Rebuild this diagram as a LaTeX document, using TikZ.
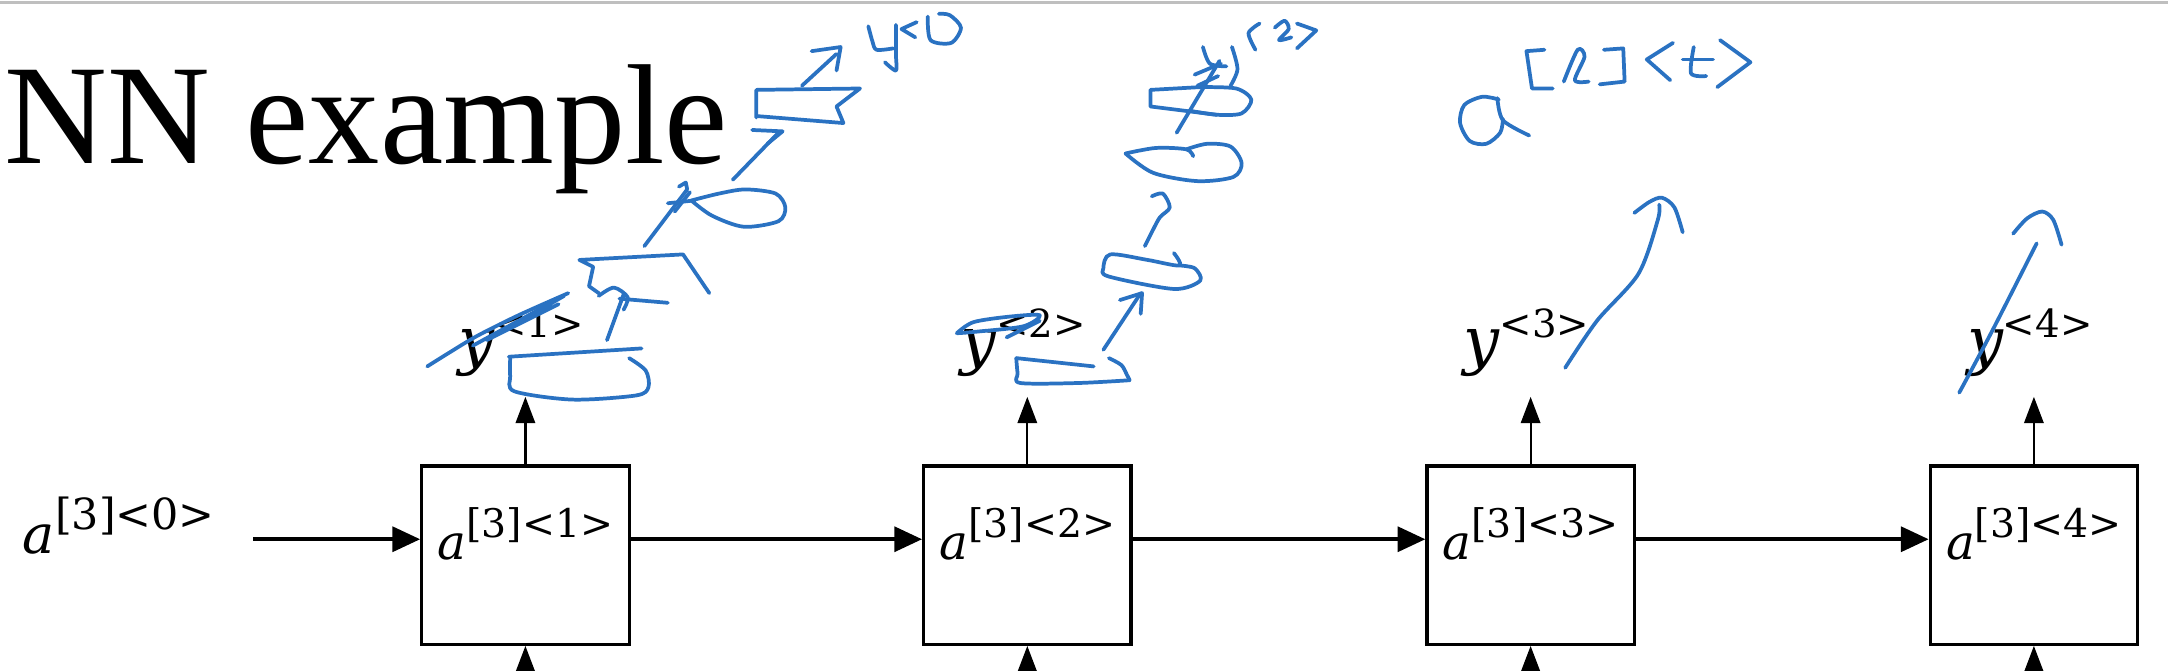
\documentclass[tikz,border=0pt]{standalone}
\usepackage{fontspec}
\setmainfont{Liberation Serif}
\newfontfamily\mathf{DejaVu Serif}
\usetikzlibrary{arrows.meta}
\definecolor{ink}{RGB}{42,114,194}
\newcommand{\alab}[1]{{\mathf\fontsize{35}{35}\selectfont\itshape a}\raisebox{16pt}{\mathf\fontsize{28.5}{28.5}\selectfont #1}}
\newcommand{\azlab}[1]{{\mathf\fontsize{39}{39}\selectfont\itshape a}\raisebox{17pt}{\mathf\fontsize{31}{31}\selectfont #1}}
\newcommand{\ylab}[1]{{\mathf\fontsize{46}{46}\selectfont\itshape y}\raisebox{18pt}{\mathf\fontsize{28}{28}\selectfont #1}}
\begin{document}
\begin{tikzpicture}[x=1pt,y=-1pt,
  cell/.style={draw, line width=2.3pt, minimum width=150pt, minimum height=129pt, inner sep=0pt},
  harr/.style={line width=2.6pt, -{Triangle[length=20pt,width=18pt]}},
  varr/.style={line width=1.6pt, -{Triangle[length=19pt,width=14pt]}},
  hand/.style={ink, line width=2.7pt, line cap=round, line join=round},
  lab/.style={inner sep=0pt, anchor=base}]
\useasboundingbox (0,0) rectangle (1568,485);
\draw[black!25, line width=2pt] (0,2) -- (1568,2);
\node[inner sep=0pt, anchor=base west, font=\fontsize{103}{103}\selectfont] (title) at (3,118) {NN example};
% cells
\foreach \i/\x in {1/380,2/743,3/1107,4/1471}{
  \node[cell] (b\i) at (\x,401.5) {};
  \node[lab] (l\i) at (\x,405) {\alab{[3]<\i>}};
  \node[lab] (y\i) at (\x-3,262) {\ylab{<\i>}};
  \coordinate (t\i) at (\x,287);
  \coordinate (u\i) at (\x,490);
  \draw[varr] (b\i.north) -- (t\i);
  \draw[varr] (u\i) -- (b\i.south);
}
\node[lab] (a0) at (86,400) {\azlab{[3]<0>}};
\coordinate (s0) at (183,390);
\draw[harr] (s0) -- (s0 -| b1.west);
\draw[harr] (s0 -| b1.east) -- (s0 -| b2.west);
\draw[harr] (s0 -| b2.east) -- (s0 -| b3.west);
\draw[harr] (s0 -| b3.east) -- (s0 -| b4.west);
% ---- handwriting, column 1
\draw[hand] plot[smooth] coordinates {(309,265) (325,255) (345,243) (375,228) (411,212)};
\draw[hand] (342,250) -- (408,214) -- (352,246) -- (404,220);
\draw[hand] (368,258) -- (464,252);
\draw[hand] plot[smooth] coordinates {(369,259) (369,272) (372,283) (414,289) (460,286) (469,280) (467,268) (455,259)};
\draw[hand] (439,246) -- (451,213);
\draw[hand] plot[smooth] coordinates {(433,214) (444,208) (454,215) (451,224)};
\draw[hand] (448,216) -- (483,219);
\draw[hand] (433,212) -- (426,207) -- (429,193) -- (419,188) -- (494,184) -- (513,212);
\draw[hand] (466,178) -- (497,137);
\draw[hand] (483,147) -- (502,145);
\draw[hand] (488,153) -- (499,139);
\draw[hand] (491,135) -- (496,132) -- (497,137);
\draw[hand] plot[smooth] coordinates {(500,145) (520,140) (539,137) (561,140) (568,150) (563,160) (538,164) (515,156) (500,145)};
\draw[hand] (530,130) -- (563,96);
\draw[hand] (544,94) -- (566,95) -- (555,104);
\draw[hand] (547,85) -- (547,65) -- (622,64) -- (605,77) -- (610,89) -- (548,84);
\draw[hand] (580,62) -- (605,39);
\draw[hand] (587,37) -- (608,34) -- (605,51);
\draw[hand] plot[smooth] coordinates {(628,19) (631,30) (634,36) (646,35)};
\draw[hand] plot[smooth] coordinates {(648,18) (648,40) (648,51) (640,45)};
\draw[hand] (663,16) -- (652,21) -- (662,27);
\draw[hand] plot[smooth] coordinates {(671,12) (673,29) (688,31) (695,20) (687,11) (679,10)};
% ---- column 2
\draw[hand] plot[smooth] coordinates {(692,241) (704,233) (730,229) (752,228) (740,236) (705,240) (692,241)};
\draw[hand] (728,244) -- (752,232);
\draw[hand] (735,259) -- (791,265);
\draw[hand] plot[smooth] coordinates {(735,259) (736,270) (738,277) (780,277) (817,275)};
\draw[hand] plot[smooth] coordinates {(802,259) (811,264) (815,271) (817,275)};
\draw[hand] (798,253) -- (825,212);
\draw[hand] (810,217) -- (826,212) -- (825,227);
\draw[hand] plot[smooth] coordinates {(849,183) (853,192) (830,188) (803,184) (798,194) (802,200) (849,209) (868,203) (864,194) (853,192)};
\draw[hand] plot[smooth] coordinates {(828,178) (834,166) (839,157) (846,150) (841,140) (833,142)};
\draw[hand] plot[smooth] coordinates {(814,111) (836,107) (858,108) (863,113)};
\draw[hand] plot[smooth] coordinates {(858,108) (873,104) (890,106) (898,118) (892,128) (866,131) (834,125) (814,111)};
\draw[hand] (851,96) -- (882,44);
\draw[hand] (864,54) -- (883,46);
\draw[hand] (866,62) -- (881,55);
\draw[hand] (868,63) -- (832,65) -- (832,77) -- (880,83);
\draw[hand] plot[smooth] coordinates {(868,63) (894,64) (905,72) (898,82) (880,83) (860,80)};
\draw[hand] plot[smooth] coordinates {(870,34) (875,46) (887,48)};
\draw[hand] plot[smooth] coordinates {(891,34) (895,50) (890,62)};
\draw[hand] plot[smooth] coordinates {(911,17) (903,24) (908,36)};
\draw[hand] plot[smooth] coordinates {(922,20) (929,15) (932,21) (925,29) (934,27)};
\draw[hand] (938,17) -- (952,22) -- (938,35);
% ---- column 3: a^[l]<t>
\draw[hand] plot[smooth] coordinates {(1084,72) (1072,70) (1059,76) (1056,89) (1063,102) (1075,104) (1085,96) (1087,86)};
\draw[hand] plot[smooth] coordinates {(1083,71) (1087,87) (1106,98)};
\draw[hand] (1117,36) -- (1104,37) -- (1108,64) -- (1123,64);
\draw[hand] plot[smooth] coordinates {(1131,59) (1141,36) (1146,41) (1139,58) (1149,59)};
\draw[hand] (1160,36) -- (1174,35) -- (1175,59) -- (1157,61);
\draw[hand] (1210,31) -- (1191,43) -- (1208,58);
\draw[hand] (1217,43) -- (1239,43);
\draw[hand] plot[smooth] coordinates {(1225,34) (1223,53) (1234,55)};
\draw[hand] (1244,29) -- (1266,45) -- (1242,63);
\draw[hand] plot[smooth] coordinates {(1132,266) (1155,232) (1185,198) (1199,159) (1200,148)};
\draw[hand] plot[smooth] coordinates {(1182,154) (1193,146) (1202,143) (1211,150) (1217,168)};
% ---- column 4
\draw[hand] plot[smooth] coordinates {(1417,284) (1441,239) (1473,176)};
\draw[hand] plot[smooth] coordinates {(1456,169) (1466,158) (1477,153) (1485,159) (1491,177)};
\end{tikzpicture}
\end{document}
